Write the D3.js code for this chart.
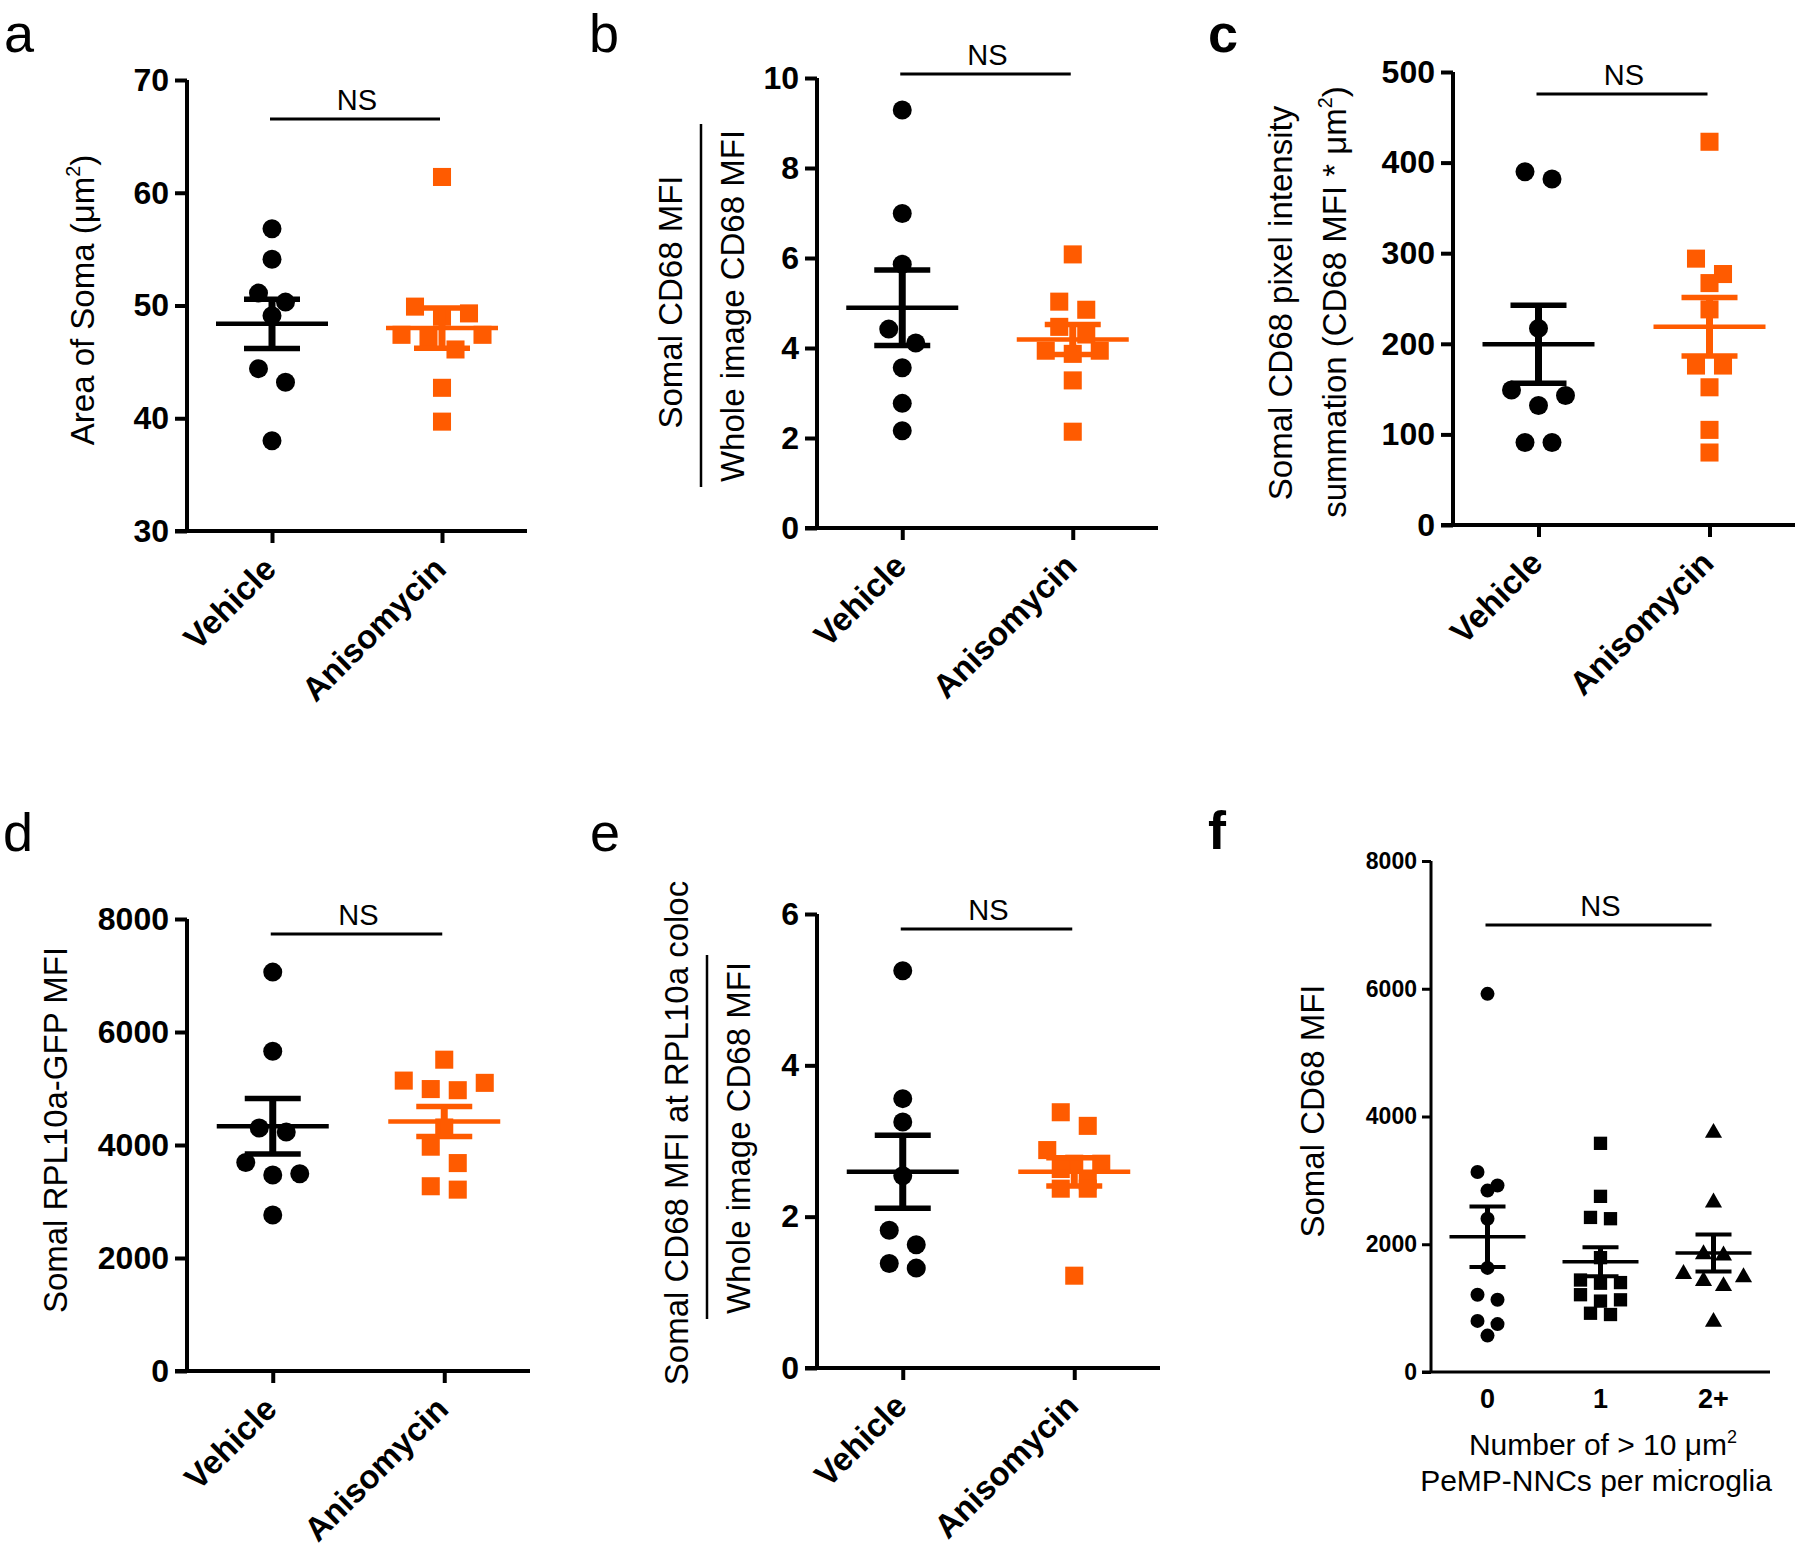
<!DOCTYPE html>
<html><head><meta charset="utf-8">
<script src="https://cdn.jsdelivr.net/npm/d3@7"></script>
<style>
body{margin:0;background:#fff}
svg{display:block}
text{font-family:"Liberation Sans",Arial,Helvetica,sans-serif;fill:#000}
</style>
</head><body>
<svg id="chart" width="1800" height="1552"></svg>
<script>
// ---------------- DATA ----------------
const groupsAE = ["Vehicle", "Anisomycin"];

const aVehicle    = [56.8, 54.1, 51.1, 50.3, 49.1, 44.4, 43.2, 38.0];
const aAnisomycin = [61.4, 49.3, 49.9, 49.0, 47.4, 47.1, 47.4, 46.1, 42.7, 39.7];
const aTicks = [30, 40, 50, 60, 70];

const bVehicle    = [9.29, 6.99, 5.86, 4.42, 4.11, 3.56, 2.77, 2.16];
const bAnisomycin = [6.08, 5.03, 4.85, 4.47, 4.30, 3.87, 3.94, 3.94, 3.28, 2.14];
const bTicks = [0, 2, 4, 6, 8, 10];

const cVehicle    = [390, 382, 217, 149, 143, 132, 91, 91];
const cAnisomycin = [423, 294, 277, 267, 238, 176, 176, 152, 105, 80];
const cTicks = [0, 100, 200, 300, 400, 500];

const dVehicle    = [7060, 5660, 4300, 4230, 3690, 3490, 3470, 2760];
const dAnisomycin = [5510, 5140, 5100, 4990, 4970, 4310, 3970, 3680, 3270, 3210];
const dTicks = [0, 2000, 4000, 6000, 8000];

const eVehicle    = [5.25, 3.56, 3.25, 2.54, 1.82, 1.63, 1.38, 1.32];
const eAnisomycin = [3.38, 3.20, 2.88, 2.70, 2.70, 2.63, 2.47, 2.37, 2.37, 1.22];
const eTicks = [0, 2, 4, 6];

const fGroups  = ["0", "1", "2+"];
const fZero    = [5920, 3130, 2920, 2840, 2400, 1630, 1210, 1130, 800, 750, 570];
const fOne     = [3580, 2750, 2420, 2400, 1790, 1440, 1400, 1390, 1210, 1130, 1110, 920, 900];
const fTwoPlus = [3760, 2670, 1860, 1840, 1550, 1500, 1440, 1360, 800];
const fTicks = [0, 2000, 4000, 6000, 8000];

// ---------------- STYLE ----------------
const BLACK = "#000000";
const ORANGE = "#FF5B00";
const svg = d3.select("#chart");

// Row-based scatter spreading (points whose symbols would overlap share a row)
function rowOffsets(vals, y, r, sp) {
  const order = vals.map((v, i) => i).sort((i, j) => vals[j] - vals[i]);
  const thr = 2 * r * 0.97;
  const rows = [];
  for (const i of order) {
    const last = rows[rows.length - 1];
    if (last && Math.abs(y(vals[i]) - y(vals[last[0]])) < thr) last.push(i);
    else rows.push([i]);
  }
  const off = new Array(vals.length).fill(0);
  rows.forEach(row => {
    const n = row.length;
    const slots = d3.range(n).map(k => (k - (n - 1) / 2) * sp);
    slots.sort((p, q) => (Math.abs(q) - Math.abs(p)) || (p - q));
    row.forEach((idx, k) => { off[idx] = slots[k]; });
  });
  return off;
}

function drawPanel(cfg) {
  const g = svg.append("g");
  const x = d3.scalePoint().domain(cfg.groups).range([cfg.x0, cfg.x1]).padding(0.5);
  const y = d3.scaleLinear().domain(cfg.domain).range([cfg.yBot, cfg.yTop]);

  // y axis
  const yAxis = d3.axisLeft(y).tickValues(cfg.ticks).tickSize(cfg.tickLen).tickPadding(cfg.tickPad)
    .tickFormat(d3.format("d"));
  const ya = g.append("g").attr("transform", `translate(${cfg.x0},0)`).call(yAxis);
  ya.attr("font-family", null);
  ya.select(".domain").attr("stroke", BLACK).attr("stroke-width", cfg.axisW)
    .attr("d", `M0,${cfg.yTop}V${cfg.yBot}`);
  ya.selectAll(".tick line").attr("stroke", BLACK).attr("stroke-width", cfg.axisW);
  ya.selectAll(".tick text").attr("font-size", cfg.tickFont).attr("font-weight", "bold").attr("fill", BLACK);

  // x axis
  const xAxis = d3.axisBottom(x).tickSize(cfg.xTickLen).tickFormat("");
  const xa = g.append("g").attr("transform", `translate(0,${cfg.yBot})`).call(xAxis);
  xa.select(".domain").attr("stroke", BLACK).attr("stroke-width", cfg.axisW)
    .attr("d", `M${cfg.x0 - cfg.tickLen},0H${cfg.x1}`);
  xa.selectAll(".tick line").attr("stroke", BLACK).attr("stroke-width", cfg.axisW)
    .attr("opacity", cfg.xTickLen > 0 ? 1 : 0);

  // category labels
  if (cfg.rotated) {
    g.selectAll(".cat").data(cfg.groups).join("text")
      .attr("transform", d => `translate(${x(d) + 6},${cfg.yBot + 40}) rotate(-45)`)
      .attr("text-anchor", "end").attr("font-size", cfg.catFont).attr("font-weight", "bold")
      .text(d => d);
  } else {
    g.selectAll(".cat").data(cfg.groups).join("text")
      .attr("x", d => x(d)).attr("y", cfg.yBot + 36)
      .attr("text-anchor", "middle").attr("font-size", cfg.catFont).attr("font-weight", "bold")
      .text(d => d);
  }

  // data points, mean, SEM
  cfg.series.forEach((s, si) => {
    const cx = x(cfg.groups[si]);
    const off = rowOffsets(s.values, y, cfg.r, cfg.sp);
    const sg = g.append("g").attr("fill", s.color);
    s.values.forEach((v, i) => {
      const px = cx + off[i], py = y(v);
      if (s.shape === "circle") {
        sg.append("circle").attr("cx", px).attr("cy", py).attr("r", cfg.r);
      } else if (s.shape === "square") {
        const h = cfg.r * 0.95;
        sg.append("rect").attr("x", px - h).attr("y", py - h).attr("width", 2 * h).attr("height", 2 * h);
      } else {
        const sym = d3.symbol().type(d3.symbolTriangle).size(cfg.r * cfg.r * 2.6);
        sg.append("path").attr("d", sym()).attr("transform", `translate(${px},${py + 1})`);
      }
    });
    const m = d3.mean(s.values);
    const sem = d3.deviation(s.values) / Math.sqrt(s.values.length);
    const eg = g.append("g").attr("stroke", s.color).attr("fill", "none");
    eg.append("line").attr("x1", cx - cfg.meanHW).attr("x2", cx + cfg.meanHW)
      .attr("y1", y(m)).attr("y2", y(m)).attr("stroke-width", cfg.lineW);
    eg.append("line").attr("x1", cx).attr("x2", cx)
      .attr("y1", y(m - sem)).attr("y2", y(m + sem)).attr("stroke-width", cfg.vLineW);
    [m - sem, m + sem].forEach(v => {
      eg.append("line").attr("x1", cx - cfg.capHW).attr("x2", cx + cfg.capHW)
        .attr("y1", y(v)).attr("y2", y(v)).attr("stroke-width", cfg.capW);
    });
  });

  // NS bracket
  const first = x(cfg.groups[0]), last = x(cfg.groups[cfg.groups.length - 1]);
  g.append("line").attr("x1", first - 2).attr("x2", last - 2).attr("y1", cfg.nsY).attr("y2", cfg.nsY)
    .attr("stroke", BLACK).attr("stroke-width", 3);
  g.append("text").attr("x", (first + last) / 2).attr("y", cfg.nsY - 9)
    .attr("text-anchor", "middle").attr("font-size", cfg.nsFont).text("NS");

  // panel letter
  g.append("text").attr("x", cfg.letter.x).attr("y", cfg.letter.y).attr("font-size", 54)
    .attr("font-weight", cfg.letter.bold ? "bold" : "normal").text(cfg.letter.t);

  // y title lines
  cfg.titles.forEach(t => {
    const fs = t.size || 33;
    const tt = g.append("text")
      .attr("transform", `translate(${t.x},${t.y}) rotate(-90)`)
      .attr("text-anchor", "middle").attr("font-size", fs);
    t.parts.forEach(p => {
      const ts = tt.append("tspan").text(p.s);
      if (p.sup) ts.attr("font-size", fs * 0.6).attr("dy", -fs * 0.42);
      if (p.after) ts.attr("dy", fs * 0.42);
    });
  });
  if (cfg.bar) {
    g.append("line").attr("x1", cfg.bar.x).attr("x2", cfg.bar.x).attr("y1", cfg.bar.y1).attr("y2", cfg.bar.y2)
      .attr("stroke", BLACK).attr("stroke-width", 2.5);
  }
}

const common = {tickLen: 12, tickPad: 6, xTickLen: 12, axisW: 4, tickFont: 32, catFont: 33,
  r: 9.5, sp: 27, meanHW: 56, capHW: 28, lineW: 4.5, capW: 5.5, vLineW: 7, nsFont: 29, rotated: true};

// a
drawPanel(Object.assign({}, common, {
  groups: groupsAE, domain: [30, 70], ticks: aTicks, x0: 187, x1: 527, yTop: 80, yBot: 531,
  series: [{values: aVehicle, color: BLACK, shape: "circle"}, {values: aAnisomycin, color: ORANGE, shape: "square"}],
  nsY: 119, letter: {t: "a", x: 4, y: 52},
  titles: [{x: 94, y: 300, parts: [{s: "Area of Soma (μm"}, {s: "2", sup: true}, {s: ")", after: true}]}]
}));
// b
drawPanel(Object.assign({}, common, {
  groups: groupsAE, domain: [0, 10], ticks: bTicks, x0: 817, x1: 1158, yTop: 78, yBot: 528,
  series: [{values: bVehicle, color: BLACK, shape: "circle"}, {values: bAnisomycin, color: ORANGE, shape: "square"}],
  nsY: 74, letter: {t: "b", x: 589, y: 52},
  titles: [{x: 682, y: 302, parts: [{s: "Somal CD68 MFI"}]}, {x: 744, y: 306, parts: [{s: "Whole image CD68 MFI"}]}],
  bar: {x: 701, y1: 124, y2: 487}
}));
// c
drawPanel(Object.assign({}, common, {
  groups: groupsAE, domain: [0, 500], ticks: cTicks, x0: 1453, x1: 1795, yTop: 72, yBot: 525,
  series: [{values: cVehicle, color: BLACK, shape: "circle"}, {values: cAnisomycin, color: ORANGE, shape: "square"}],
  nsY: 94, letter: {t: "c", x: 1208, y: 52, bold: true},
  titles: [{x: 1292, y: 303, parts: [{s: "Somal CD68 pixel intensity"}]},
           {x: 1346, y: 302, parts: [{s: "summation (CD68 MFI * μm"}, {s: "2", sup: true}, {s: ")", after: true}]}]
}));
// d
drawPanel(Object.assign({}, common, {
  groups: groupsAE, domain: [0, 8000], ticks: dTicks, x0: 187, x1: 530, yTop: 919, yBot: 1371,
  series: [{values: dVehicle, color: BLACK, shape: "circle"}, {values: dAnisomycin, color: ORANGE, shape: "square"}],
  nsY: 934, letter: {t: "d", x: 3, y: 851},
  titles: [{x: 67, y: 1130, parts: [{s: "Somal RPL10a-GFP MFI"}]}]
}));
// e
drawPanel(Object.assign({}, common, {
  groups: groupsAE, domain: [0, 6], ticks: eTicks, x0: 817, x1: 1160, yTop: 914, yBot: 1368,
  series: [{values: eVehicle, color: BLACK, shape: "circle"}, {values: eAnisomycin, color: ORANGE, shape: "square"}],
  nsY: 929, letter: {t: "e", x: 590, y: 851},
  titles: [{x: 688, y: 1133, parts: [{s: "Somal CD68 MFI at RPL10a coloc"}]},
           {x: 750, y: 1138, parts: [{s: "Whole image CD68 MFI"}]}],
  bar: {x: 707, y1: 955, y2: 1319}
}));
// f
drawPanel(Object.assign({}, common, {
  groups: fGroups, domain: [0, 8000], ticks: fTicks, x0: 1431, x1: 1770, yTop: 861, yBot: 1372,
  tickLen: 9, tickPad: 5, xTickLen: 0, axisW: 3, tickFont: 23, catFont: 27, rotated: false,
  r: 7, sp: 20, meanHW: 38, capHW: 18, lineW: 3.5, capW: 4, vLineW: 5, nsFont: 29,
  series: [{values: fZero, color: BLACK, shape: "circle"}, {values: fOne, color: BLACK, shape: "square"},
           {values: fTwoPlus, color: BLACK, shape: "triangle"}],
  nsY: 925, letter: {t: "f", x: 1208, y: 849, bold: true},
  titles: [{x: 1324, y: 1111, parts: [{s: "Somal CD68 MFI"}]}]
}));
// f x-axis title
svg.append("text").attr("x", 1603).attr("y", 1455).attr("text-anchor", "middle").attr("font-size", 30)
  .call(t => { t.append("tspan").text("Number of > 10 μm"); t.append("tspan").text("2").attr("font-size", 18).attr("dy", -12); });
svg.append("text").attr("x", 1596).attr("y", 1491).attr("text-anchor", "middle").attr("font-size", 30)
  .text("PeMP-NNCs per microglia");
</script>
</body></html>
